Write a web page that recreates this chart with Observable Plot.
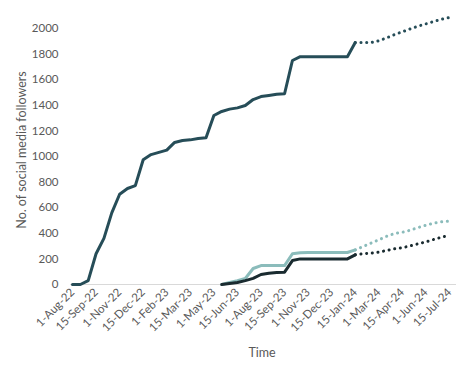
<!DOCTYPE html>
<html>
<head>
<meta charset="utf-8">
<script src="https://cdn.jsdelivr.net/npm/d3@7"></script>
<script src="https://cdn.jsdelivr.net/npm/@observablehq/plot@0.6"></script>
<style>
  html, body { margin: 0; padding: 0; background: #fff; }
  #chart { width: 470px; height: 374px; }
</style>
</head>
<body>
<div id="chart"></div>
<script>
// Categories (semi-monthly dates, category axis)
const categories = [
  "1-Aug-22","15-Aug-22","1-Sep-22","15-Sep-22","1-Oct-22","15-Oct-22","1-Nov-22","15-Nov-22",
  "1-Dec-22","15-Dec-22","1-Jan-23","15-Jan-23","1-Feb-23","15-Feb-23","1-Mar-23","15-Mar-23",
  "1-Apr-23","15-Apr-23","1-May-23","15-May-23","1-Jun-23","15-Jun-23","1-Jul-23","15-Jul-23",
  "1-Aug-23","15-Aug-23","1-Sep-23","15-Sep-23","1-Oct-23","15-Oct-23","1-Nov-23","15-Nov-23",
  "1-Dec-23","15-Dec-23","1-Jan-24","8-Jan-24","15-Jan-24","1-Feb-24","15-Feb-24","1-Mar-24",
  "15-Mar-24","1-Apr-24","15-Apr-24","1-May-24","15-May-24","1-Jun-24","15-Jun-24","1-Jul-24","15-Jul-24"
];
const tickLabels = ["1-Aug-22","15-Sep-22","1-Nov-22","15-Dec-22","1-Feb-23","15-Mar-23","1-May-23",
  "15-Jun-23","1-Aug-23","15-Sep-23","1-Nov-23","15-Dec-23","15-Jan-24","1-Mar-24","15-Apr-24","1-Jun-24","15-Jul-24"];
const yTicks = [0,200,400,600,800,1000,1200,1400,1600,1800,2000];

// Series A (main platform), actual: index 0..36
const seriesA = [0,0,30,240,360,560,705,750,772,975,1015,1032,1050,1110,1125,1130,1140,1146,1320,1352,1370,1380,1398,1445,1468,1477,1487,1490,1750,1780,1780,1780,1780,1780,1780,1780,1890];
// Series A forecast: index 36..48
const seriesAForecast = [1890,1890,1890,1904,1927,1953,1974,1997,2018,2036,2055,2073,2086];

// Series B (light teal), actual: index 19..36
const seriesB = [0,15,29,47,125,148,148,148,148,240,248,250,250,250,250,250,250,270];
const seriesBForecast = [270,297,323,349,377,398,408,424,445,463,479,490,495];

// Series C (dark), actual: index 19..36
const seriesC = [0,8,16,30,48,78,88,93,96,187,200,200,200,200,200,200,200,232];
const seriesCForecast = [232,240,245,253,266,279,287,302,318,333,352,370,385];

function rows(values, start) {
  return values.map((v, i) => ({cat: categories[start + i], value: v}));
}
const aAct = rows(seriesA, 0), aFc = rows(seriesAForecast, 36);
const bAct = rows(seriesB, 19), bFc = rows(seriesBForecast, 36);
const cAct = rows(seriesC, 19), cFc = rows(seriesCForecast, 36);

const colA = "#264d58", colB = "#8bbcbb", colC = "#1a2b30";
const dotted = {strokeWidth: 3, strokeDasharray: "0.1 5.6", strokeLinecap: "round"};

const chart = Plot.plot({
  width: 470,
  height: 374,
  marginLeft: 72,
  marginRight: 21,
  marginTop: 28,
  marginBottom: 90,
  style: {fontFamily: "Lato, 'Open Sans', sans-serif", fontSize: "11.5px", color: "#595959", background: "#fff", overflow: "visible"},
  x: {type: "point", domain: categories, padding: 0, label: null},
  y: {domain: [0, 2000], label: null},
  marks: [
    Plot.ruleY([0], {stroke: "#d9d9d9", strokeWidth: 1, insetLeft: -2, insetRight: -7}),
    Plot.axisX({ticks: tickLabels, tickSize: 0, tickRotate: -45, tickPadding: 6, label: null, fontSize: 11.5, fill: "#595959"}),
    Plot.axisY({ticks: yTicks, tickSize: 0, tickPadding: 14, tickFormat: d3.format("d"), label: null, fontSize: 11.5, fill: "#595959"}),
    Plot.lineY(aAct, {x: "cat", y: "value", stroke: colA, strokeWidth: 3, strokeLinejoin: "round"}),
    Plot.lineY(aFc, {x: "cat", y: "value", stroke: colA, ...dotted}),
    Plot.lineY(bAct, {x: "cat", y: "value", stroke: colB, strokeWidth: 3, strokeLinejoin: "round"}),
    Plot.lineY(bFc, {x: "cat", y: "value", stroke: colB, ...dotted}),
    Plot.lineY(cAct, {x: "cat", y: "value", stroke: colC, strokeWidth: 3, strokeLinejoin: "round"}),
    Plot.lineY(cFc, {x: "cat", y: "value", stroke: colC, ...dotted})
  ]
});

// Axis titles
const svg = d3.select(chart);
svg.append("text")
  .attr("x", 262).attr("y", 357)
  .attr("text-anchor", "middle")
  .attr("fill", "#595959")
  .style("font-size", "12.5px")
  .text("Time");
svg.append("text")
  .attr("transform", "translate(26,150) rotate(-90)")
  .attr("text-anchor", "middle")
  .attr("fill", "#595959")
  .style("font-size", "12.5px")
  .text("No. of social media followers");

document.getElementById("chart").appendChild(chart);
</script>
</body>
</html>
